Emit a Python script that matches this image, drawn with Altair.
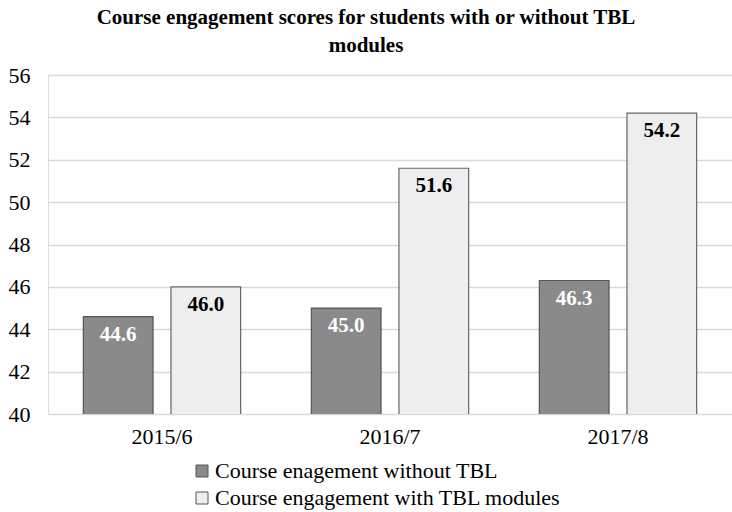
import altair as alt
import pandas as pd

years = ["2015/6", "2016/7", "2017/8"]
series = ["Course enagement without TBL", "Course engagement with TBL modules"]
without_tbl = [44.6, 45.0, 46.3]
with_tbl = [46.0, 51.6, 54.2]

rows = []
for i, y in enumerate(years):
    rows.append({"year": y, "series": series[0], "value": without_tbl[i], "lab": f"{without_tbl[i]:.1f}"})
    rows.append({"year": y, "series": series[1], "value": with_tbl[i], "lab": f"{with_tbl[i]:.1f}"})
df = pd.DataFrame(rows)

FONT = "Liberation Serif"

x = alt.X("year:N", sort=years, title=None,
          scale=alt.Scale(paddingInner=0.31, paddingOuter=0.155),
          axis=alt.Axis(labelAngle=0, labelFontSize=22, labelFont=FONT, labelColor="#000",
                        ticks=False, domain=False, labelPadding=12))
xoff = alt.XOffset("series:N", sort=series, scale=alt.Scale(paddingInner=0.2045, paddingOuter=0))
y = alt.Y("value:Q", title=None,
          scale=alt.Scale(domain=[40, 56], nice=False, zero=False),
          axis=alt.Axis(values=list(range(40, 57, 2)), labelFontSize=22, labelFont=FONT,
                        labelColor="#000", ticks=False, domain=False, labelPadding=18,
                        grid=True, gridColor="#d9d9d9", gridWidth=1.5))

bars = alt.Chart(df).mark_bar(strokeWidth=1.2, clip=True).encode(
    x=x, xOffset=xoff, y=y,
    color=alt.Color("series:N", sort=series,
                    scale=alt.Scale(domain=series, range=["#8a8a8a", "#eeeeee"]),
                    legend=alt.Legend(title=None, orient="none", legendX=143, legendY=385,
                                      direction="vertical", symbolType="square", symbolSize=144,
                                      symbolStrokeWidth=1, symbolStrokeColor="#555",
                                      labelFont=FONT, labelFontSize=22, labelColor="#000",
                                      rowPadding=5, labelOffset=2, labelLimit=400)),
    stroke=alt.Stroke("series:N", sort=series,
                      scale=alt.Scale(domain=series, range=["#555555", "#666666"]), legend=None),
)

labels = alt.Chart(df).mark_text(baseline="middle", dy=18, fontSize=21, font=FONT,
                                 fontWeight="bold").encode(
    x=x, xOffset=xoff, y=y, text="lab:N",
    color=alt.Color("series:N", sort=series,
                    scale=alt.Scale(domain=series, range=["#ffffff", "#000000"]), legend=None),
)

chart = alt.layer(bars, labels).resolve_scale(color="independent").properties(
    width=684, height=339,
    autosize=alt.AutoSizeParams(type="none"),
    padding={"left": 48, "top": 75, "right": 0, "bottom": 98},
    title=alt.TitleParams(["Course engagement scores for students with or without TBL", "modules"],
                          font=FONT, fontSize=21, fontWeight="bold", color="#000",
                          anchor="middle", frame="group", dx=-24, lineHeight=28, offset=8),
).configure_view(stroke=None).configure(background="white")

chart.save("out.html", embed_options={"renderer": "svg", "actions": False})
